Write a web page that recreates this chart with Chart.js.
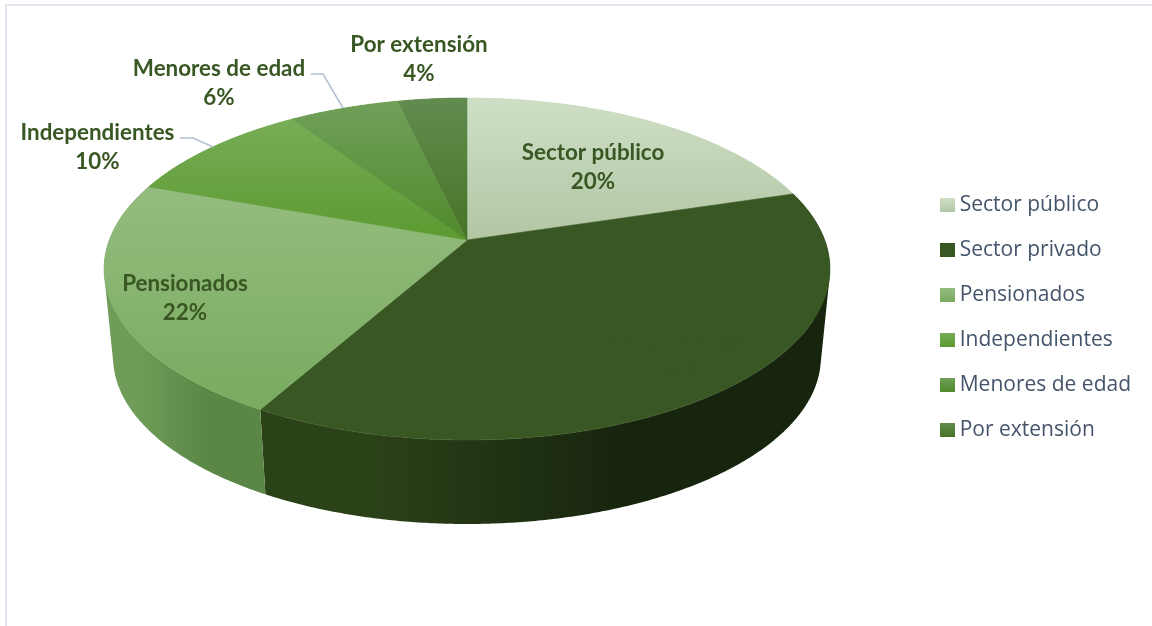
<!DOCTYPE html>
<html lang="es">
<head>
<meta charset="utf-8">
<title>Afiliados por tipo</title>
<script src="https://cdn.jsdelivr.net/npm/chart.js@4/dist/chart.umd.min.js"></script>
<style>
    html, body { margin: 0; padding: 0; background: #fff; }
    #wrap { position: relative; width: 1152px; height: 626px; overflow: hidden; }
    #frame { position: absolute; left: 5px; top: 4px; right: 0; bottom: 0; border-top: 2px solid #dfe5ec; border-left: 2px solid #dfe5ec; }
    canvas { position: absolute; left: 0; top: 0; }
</style>
</head>
<body>
<div id="wrap">
    <div id="frame"></div>
    <canvas id="pie3d" width="1152" height="626"></canvas>
</div>
<script>
/* ---------------- DATA ---------------- */
const categories = ["Sector público", "Sector privado", "Pensionados", "Independientes", "Menores de edad", "Por extensión"];
const shares = [20.3, 37.9, 22.3, 10.1, 5.8, 3.6];

/* ---------------- STYLES ---------------- */
const faceTop = ["#cfdfc5", "#385723", "#95bc7f", "#78ad57", "#70a05a", "#628c50"];
const faceBottom = ["#b2c6a4", "#385723", "#78ab5f", "#5b9a30", "#4f8a2b", "#477326"];
const wallLeft = ["#b2c6a4", "#2b4118", "#6f9c58", "#5b9a30", "#4f8a2b", "#477326"];
const wallRight = ["#b2c6a4", "#17240e", "#5a8746", "#5b9a30", "#4f8a2b", "#477326"];
const labelColor = "#385723";
const legendColor = "#44546a";
const leaderColor = "#b3c0d3";

// Centre of each data label (two lines of text)
const labelCenters = [[593, 167], [680, 357], [185, 298], [97.5, 147], [219, 83], [419, 59]];
// Leader lines for the labels outside the pie
const leaders = [
    [[180, 138], [193, 138], [213, 147]],
    [[311, 74], [323, 74], [343, 108]]
];

/* ---------------- PERSPECTIVE OF THE DISC ---------------- */
const centerX = 467;
const radiusX = 357.7;
const radiusY = 166.1;
const tilt = -0.1696;
const topFace = { apexY: 240, scale: 1 };
const bottomFace = { apexY: 329, scale: 0.975 };

function project(angle, face) {
    const u = Math.cos(angle);
    const v = Math.sin(angle);
    const d = 1 + tilt * v;
    return {
        x: centerX + face.scale * radiusX * u / d,
        y: face.apexY + face.scale * radiusY * v / d
    };
}

function sampleArc(arc, face) {
    const pts = [];
    const steps = Math.max(2, Math.ceil((arc.endAngle - arc.startAngle) / 0.008));
    for (let i = 0; i <= steps; i++) {
        pts.push(project(arc.startAngle + (arc.endAngle - arc.startAngle) * i / steps, face));
    }
    return pts;
}

function drawWall(ctx, arc, i) {
    const top = sampleArc(arc, topFace);
    const bottom = sampleArc(arc, bottomFace);
    const xs = top.concat(bottom).filter(p => p.y > 268).map(p => p.x);
    const minX = xs.length ? Math.min(...xs) : centerX;
    const maxX = xs.length ? Math.max(...xs) : centerX + 1;
    const grad = ctx.createLinearGradient(minX, 0, maxX, 0);
    grad.addColorStop(0, wallLeft[i]);
    grad.addColorStop(0.2, wallLeft[i]);
    grad.addColorStop(0.65, wallRight[i]);
    grad.addColorStop(1, wallRight[i]);

    ctx.beginPath();
    for (let k = 0; k < top.length - 1; k++) {
        let quad = [top[k], top[k + 1], bottom[k + 1], bottom[k]];
        // same winding for every quad so the fill has no holes
        let area = 0;
        quad.forEach((p, n) => {
            const q = quad[(n + 1) % 4];
            area += p.x * q.y - q.x * p.y;
        });
        if (area < 0) quad = quad.reverse();
        ctx.moveTo(quad[0].x, quad[0].y);
        quad.slice(1).forEach(p => ctx.lineTo(p.x, p.y));
        ctx.closePath();
    }
    ctx.fillStyle = grad;
    ctx.fill();
}

function drawFace(ctx, arc, i) {
    const apex = { x: centerX, y: topFace.apexY };
    const pts = sampleArc(arc, topFace);
    const ys = pts.map(p => p.y).concat(apex.y);
    const grad = ctx.createLinearGradient(0, Math.min(...ys), 0, Math.max(...ys));
    grad.addColorStop(0, faceTop[i]);
    grad.addColorStop(1, faceBottom[i]);

    ctx.beginPath();
    ctx.moveTo(apex.x, apex.y);
    pts.forEach(p => ctx.lineTo(p.x, p.y));
    ctx.closePath();
    ctx.fillStyle = grad;
    ctx.strokeStyle = grad;
    ctx.lineWidth = 0.6;
    ctx.fill();
    ctx.stroke();
}

/* ---------------- PLUGIN: DRAW THE ARCS AS A 3D DISC ---------------- */
const disc3d = {
    id: "disc3d",
    beforeDatasetDraw(chart, args) {
        const ctx = chart.ctx;
        const arcs = args.meta.data;
        ctx.save();
        arcs.forEach((arc, i) => drawWall(ctx, arc, i));
        arcs.forEach((arc, i) => drawFace(ctx, arc, i));
        ctx.restore();
        return false;
    },
    afterDatasetsDraw(chart) {
        const ctx = chart.ctx;
        const total = shares.reduce((a, b) => a + b, 0);
        ctx.save();

        ctx.strokeStyle = leaderColor;
        ctx.lineWidth = 1.5;
        leaders.forEach(line => {
            ctx.beginPath();
            line.forEach((p, n) => n ? ctx.lineTo(p[0], p[1]) : ctx.moveTo(p[0], p[1]));
            ctx.stroke();
        });

        ctx.font = "bold 22.4px Lato";
        ctx.fillStyle = labelColor;
        ctx.textAlign = "center";
        ctx.textBaseline = "middle";
        categories.forEach((name, i) => {
            const [x, y] = labelCenters[i];
            ctx.fillText(name, x, y - 14.5);
            ctx.fillText(Math.round(shares[i] / total * 100) + "%", x, y + 14.5);
        });
        ctx.restore();
    }
};

/* ---------------- LEGEND SWATCHES ---------------- */
function makeSwatch(i) {
    const c = document.createElement("canvas");
    c.width = 15;
    c.height = 14;
    const g = c.getContext("2d");
    const grad = g.createLinearGradient(0, 0, 0, 14);
    grad.addColorStop(0, faceTop[i]);
    grad.addColorStop(1, faceBottom[i]);
    g.fillStyle = grad;
    g.fillRect(0, 0, 15, 14);
    return c;
}
const swatches = categories.map((_, i) => makeSwatch(i));

/* ---------------- CHART ---------------- */
new Chart(document.getElementById("pie3d"), {
    type: "pie",
    data: {
        labels: categories,
        datasets: [{
            data: shares,
            backgroundColor: faceBottom,
            borderWidth: 0
        }]
    },
    options: {
        responsive: false,
        animation: false,
        layout: { padding: { top: 9, bottom: 0, left: 0, right: 11 } },
        plugins: {
            title: { display: false },
            tooltip: { enabled: false },
            legend: {
                position: "right",
                align: "center",
                labels: {
                    usePointStyle: true,
                    pointStyleWidth: 4,
                    boxHeight: 14,
                    padding: 24,
                    color: legendColor,
                    font: { family: "'Open Sans'", size: 21 },
                    generateLabels: () => categories.map((text, i) => ({
                        text,
                        index: i,
                        hidden: false,
                        lineWidth: 0,
                        fontColor: legendColor,
                        pointStyle: swatches[i]
                    }))
                }
            }
        }
    },
    plugins: [disc3d]
});
</script>
</body>
</html>
